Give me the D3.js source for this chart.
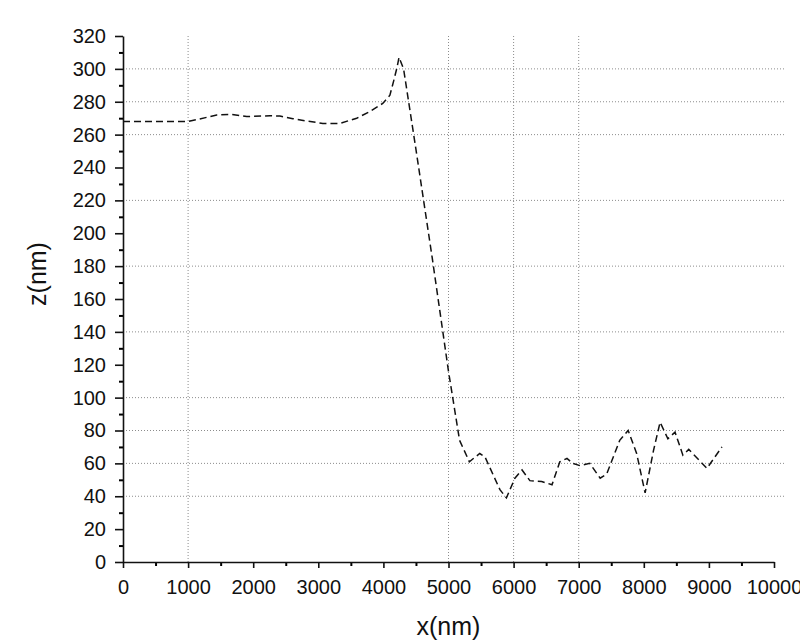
<!DOCTYPE html>
<html>
<head>
<meta charset="utf-8">
<script src="https://cdn.jsdelivr.net/npm/d3@7"></script>
<style>
  body { margin: 0; background: #ffffff; }
  svg { display: block; font-family: "Liberation Sans", Arial, sans-serif; }
  .tick text { fill: #111; }
</style>
</head>
<body>
<svg id="svg1" width="800" height="644"></svg>
<script>
// profile data
const x_nm = [0, 1000, 1180, 1440, 1675, 1900, 2260, 2410, 2610, 2830, 3070, 3330, 3590, 3790, 3990, 4100,
              4160, 4210, 4240, 4310, 4500, 4750, 5000, 5170, 5320, 5480, 5560, 5790, 5890, 6020, 6130, 6250,
              6430, 6590, 6710, 6820, 6910, 7020, 7170, 7330, 7430, 7630, 7760, 7890, 8020, 8150, 8250, 8370,
              8480, 8600, 8690, 8970, 9200];
const z_nm = [268, 268, 269.5, 272, 272.3, 271, 271.5, 271.3, 269.7, 268.2, 266.8, 266.8, 270, 274, 279, 284,
              293, 301, 307, 300, 251, 185, 116, 74, 61, 66, 64, 44, 39, 51, 56, 49.5,
              49, 47, 61, 63, 60, 58.6, 60, 51, 53.5, 74, 80, 66, 42, 68, 85, 75,
              79, 65, 68.5, 57, 70];

const xTicks = d3.range(0, 10001, 1000);
const xMinor = d3.range(500, 10000, 1000);
const yTicks = d3.range(0, 321, 20);
const yMinor = d3.range(10, 320, 20);
const xGrid = [1000, 5000, 6000, 7000];
const yGrid = [40, 60, 80, 100, 140, 180, 220, 260, 280, 300];

const dataset = x_nm.map((x, i) => ({x: x, z: z_nm[i]}));

const plotLeft = 123, plotRight = 774, plotTop = 36, plotBottom = 562;

const xScale = d3.scaleLinear().domain([0, 10000]).range([plotLeft, plotRight]);
const yScale = d3.scaleLinear().domain([0, 320]).range([plotBottom, plotTop]);

const svg = d3.select("#svg1");

// gridlines
svg.append("g")
   .selectAll("line")
   .data(yGrid)
   .join("line")
   .attr("x1", plotLeft)
   .attr("x2", 784)
   .attr("y1", d => yScale(d))
   .attr("y2", d => yScale(d))
   .attr("stroke", "#8c8c8c")
   .attr("stroke-width", 1)
   .attr("stroke-dasharray", "1,2");

svg.append("g")
   .selectAll("line")
   .data(xGrid)
   .join("line")
   .attr("x1", d => xScale(d))
   .attr("x2", d => xScale(d))
   .attr("y1", plotBottom)
   .attr("y2", plotTop)
   .attr("stroke", "#8c8c8c")
   .attr("stroke-width", 1)
   .attr("stroke-dasharray", "1,2");

// minor ticks
svg.append("g")
   .attr("transform", "translate(0," + plotBottom + ")")
   .call(d3.axisBottom(xScale).tickValues(xMinor).tickSize(4).tickSizeOuter(0).tickFormat(""))
   .call(g => g.select(".domain").remove())
   .selectAll("line").attr("stroke-width", 2);

svg.append("g")
   .attr("transform", "translate(" + plotLeft + ",0)")
   .call(d3.axisLeft(yScale).tickValues(yMinor).tickSize(4).tickSizeOuter(0).tickFormat(""))
   .call(g => g.select(".domain").remove())
   .selectAll("line").attr("stroke-width", 2);

// major axes
const xAxis = svg.append("g")
   .attr("transform", "translate(0," + plotBottom + ")")
   .call(d3.axisBottom(xScale).tickValues(xTicks).tickSize(6).tickSizeOuter(0).tickPadding(12).tickFormat(d3.format("d")));

const yAxis = svg.append("g")
   .attr("transform", "translate(" + plotLeft + ",0)")
   .call(d3.axisLeft(yScale).tickValues(yTicks).tickSize(8).tickSizeOuter(0).tickPadding(9));

[xAxis, yAxis].forEach(g => {
    g.select(".domain").attr("stroke", "#111").attr("stroke-width", 1.6);
    g.selectAll(".tick line").attr("stroke", "#111").attr("stroke-width", 1.6);
    g.selectAll(".tick text").attr("font-size", 20).attr("font-family", "Liberation Sans, Arial, sans-serif");
});

// profile line
const line = d3.line()
               .x(d => xScale(d.x))
               .y(d => yScale(d.z));

svg.append("path")
   .datum(dataset)
   .attr("d", line)
   .attr("fill", "none")
   .attr("stroke", "#111")
   .attr("stroke-width", 1.5)
   .attr("stroke-dasharray", "7,4");

// axis titles
svg.append("text")
   .attr("x", xScale(5000))
   .attr("y", 635)
   .attr("text-anchor", "middle")
   .attr("font-size", 25)
   .attr("fill", "#111")
   .text("x(nm)");

svg.append("text")
   .attr("transform", "translate(46," + 274 + ") rotate(-90)")
   .attr("text-anchor", "middle")
   .attr("font-size", 25)
   .attr("fill", "#111")
   .text("z(nm)");
</script>
</body>
</html>
